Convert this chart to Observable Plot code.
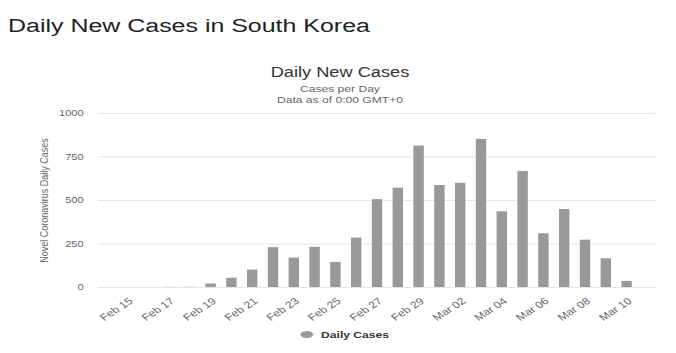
<!DOCTYPE html>
<html>
<head>
<meta charset="utf-8">
<script src="https://cdn.jsdelivr.net/npm/d3@7"></script>
<script src="https://cdn.jsdelivr.net/npm/@observablehq/plot@0.6"></script>
<style>
  html, body { margin: 0; padding: 0; background: #fff; }
  body { width: 676px; height: 353px; overflow: hidden; position: relative; font-family: "Liberation Sans", Arial, sans-serif; }
  #wrap { position: absolute; left: 0; top: 0; width: 520px; height: 353px; transform: scaleX(1.3); transform-origin: 0 0; }
  #title { position: absolute; left: 6.2px; top: 16px; font-size: 19.2px; line-height: 19.2px; color: #222; white-space: nowrap; }
  #ctitle { position: absolute; left: 0; width: 523px; top: 65.4px; text-align: center; font-size: 14px; line-height: 14px; color: #333; white-space: nowrap; }
  #csub { position: absolute; left: 0; width: 523px; top: 83.8px; text-align: center; font-size: 9.3px; line-height: 11.6px; color: #666; white-space: nowrap; }
  #chart { position: absolute; left: 0; top: 105px; }
  #legend { position: absolute; left: 230.5px; top: 331.1px; font-size: 9.3px; line-height: 9.3px; font-weight: bold; color: #333; white-space: nowrap; }
  #legend .dot { display: inline-block; width: 10px; height: 7px; border-radius: 50%; background: #999; vertical-align: 0px; margin-right: 6.5px; }
</style>
</head>
<body>
<div id="wrap">
  <div id="title">Daily New Cases in South Korea</div>
  <div id="ctitle">Daily New Cases</div>
  <div id="csub">Cases per Day<br>Data as of 0:00 GMT+0</div>
  <div id="chart"></div>
  <div id="legend"><span class="dot"></span>Daily Cases</div>
</div>
<script>
const dates = ["Feb 15","Feb 16","Feb 17","Feb 18","Feb 19","Feb 20","Feb 21","Feb 22","Feb 23","Feb 24","Feb 25","Feb 26","Feb 27","Feb 28","Feb 29","Mar 01","Mar 02","Mar 03","Mar 04","Mar 05","Mar 06","Mar 07","Mar 08","Mar 09","Mar 10"];
const dailyCases = [0,0,1,1,20,53,100,229,169,231,144,284,505,571,813,586,599,851,435,667,309,448,272,165,35];
const yTicks = [0,250,500,750,1000];
const tickDates = dates.filter((d, i) => i % 2 === 0);
const yLabel = "Novel Coronavirus Daily Cases";

const data = dates.map((d, i) => ({date: d, cases: dailyCases[i]}));

const chart = Plot.plot({
  width: 520,
  height: 220,
  marginLeft: 75.4,
  marginRight: 16.2,
  marginTop: 8,
  marginBottom: 38,
  style: {fontFamily: "Liberation Sans, Arial, sans-serif", fontSize: "9px", color: "#666", background: "transparent", overflow: "visible"},
  x: {domain: dates, padding: 0.52, axis: null},
  y: {domain: [0, 1000]},
  marks: [
    Plot.gridY(yTicks, {stroke: "#e6e6e6", strokeOpacity: 1}),
    Plot.barY(data, {x: "date", y: "cases", fill: "#999999"}),
    Plot.text(tickDates, {x: d => d, text: d => d, frameAnchor: "bottom", dy: 9.5, rotate: -40, textAnchor: "end", lineAnchor: "top", fill: "#666", fontSize: 9.5}),
    Plot.axisY({ticks: yTicks, tickSize: 0, tickPadding: 11.6, tickFormat: d => String(d), fill: "#666", fontSize: 8.5, label: null}),
    Plot.text([yLabel], {text: d => d, frameAnchor: "left", rotate: -90, dx: -41.6, textAnchor: "middle", lineAnchor: "middle", fill: "#666", fontSize: 9})
  ]
});
document.getElementById("chart").appendChild(chart);
</script>
</body>
</html>
